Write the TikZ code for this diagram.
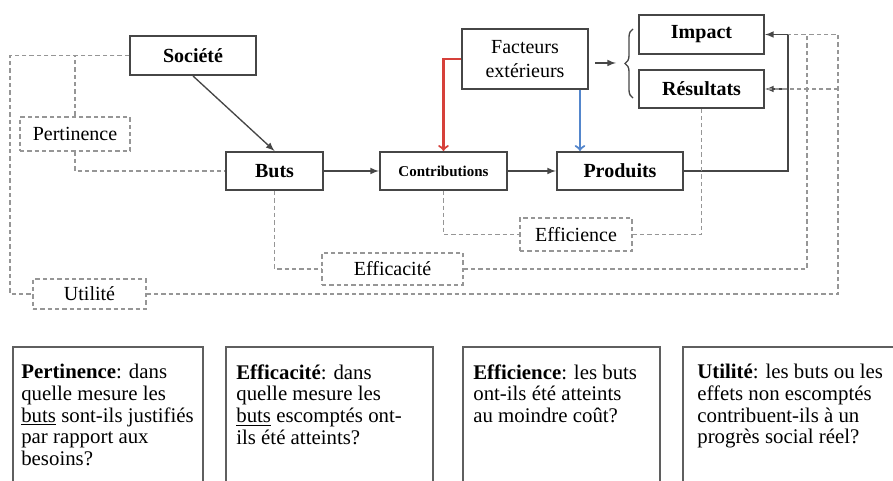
\documentclass[tikz,border=0pt]{standalone}
\usepackage{fontspec}
\setmainfont{Liberation Serif}
\usetikzlibrary{decorations.pathreplacing}

\definecolor{boxgray}{RGB}{70,70,70}
\definecolor{dashgray}{RGB}{150,150,150}
\definecolor{qgray}{RGB}{95,95,95}
\definecolor{redarr}{RGB}{214,64,58}
\definecolor{bluearr}{RGB}{84,134,204}

\tikzset{
  box/.style={draw=boxgray, line width=1.2pt, font=\fontsize{12}{14}\selectfont\bfseries, inner sep=1pt},
  dbox/.style={draw=dashgray, line width=0.8pt, dash pattern=on 2.6pt off 1.8pt, font=\fontsize{12}{14}\selectfont, inner sep=1pt},
  link/.style={draw=boxgray, line width=0.8pt},
  dlink/.style={draw=dashgray, line width=0.8pt, dash pattern=on 2.6pt off 1.8pt},
  qbox/.style={draw=qgray, line width=1.4pt},
  qtext/.style={anchor=north west, align=left, inner sep=0pt, font=\fontsize{12.5}{13}\selectfont}
}

\begin{document}
\begin{tikzpicture}[x=0.6pt,y=-0.6pt,>=latex]
\useasboundingbox (0,0) rectangle (893,481);
\clip (0,0) rectangle (893,481);

% main chain
\node[box, minimum width=75.6pt, minimum height=23.4pt] (soc) at (193,55.5) {Société};
\node[box, minimum width=58.2pt, minimum height=22.8pt] (buts) at (274.5,171) {Buts};
\node[box, minimum width=76.2pt, minimum height=22.8pt, font=\fontsize{9}{10}\selectfont\bfseries] (contr) at (443.5,171) {Contributions};
\node[box, minimum width=75.6pt, minimum height=22.8pt] (prod) at (620,171) {Produits};
\node[box, minimum width=75.6pt, minimum height=36pt, font=\fontsize{12}{14}\selectfont, align=center] (fact) at (525,59) {Facteurs\\extérieurs};
\node[box, minimum width=75pt, minimum height=23.4pt] (imp) at (701.5,34.5) {Impact};
\node[box, minimum width=75pt, minimum height=22.8pt] (res) at (701.5,89) {Résultats};

% criteria
\node[dbox, minimum width=66pt, minimum height=20.4pt] (pert) at (75,134) {Pertinence};
\node[dbox, minimum width=84.6pt, minimum height=19.2pt] (effa) at (392.5,269) {Efficacité};
\node[dbox, minimum width=67.2pt, minimum height=19.8pt] (effi) at (576,234.5) {Efficience};
\node[dbox, minimum width=67.8pt, minimum height=18pt] (util) at (89.5,294) {Utilité};

\coordinate (ul) at (10,294);
\coordinate (ka) at (807,34.5);
\coordinate (kb) at (838,34.5);
\coordinate (kc) at (788,34.5);
\coordinate (bl) at ([xshift=-5.4pt]fact.south east);
\coordinate (bs) at (595,63);
\coordinate (bt) at (616,63);

% solid links
\draw[link,->] (soc.south) -- (buts.north);
\draw[link,->] (buts.east) -- (contr.west);
\draw[link,->] (contr.east) -- (prod.west);
\draw[link] (prod.east) -| (kc);
\draw[link,->] (kc) -- (imp.east);
\draw[link,->] (kc |- res.east) -- (res.east);
\draw[link,->] (bs) -- (bt);
\draw[link, decorate, decoration={brace, amplitude=4.8pt}] (633,98) -- (633,29);

% external factors
\draw[redarr, line width=1.3pt, -to] (fact.west) -| (contr.north);
\draw[bluearr, line width=1.3pt, -to] (bl) -- (bl |- prod.north);

% dashed links
\draw[dlink] (soc.west) -| (pert.north);
\draw[dlink] (soc.west) -| (ul) -- (util.west);
\draw[dlink] (pert.south) |- (buts.west);
\draw[dlink] (buts.south) |- (effa.west);
\draw[dlink] (contr.south) |- (effi.west);
\draw[dlink] (effi.east) -| (res.south);
\draw[dlink] (effa.east) -| (ka) -- (kc);
\draw[dlink] (util.east) -| (kb) -- (ka);
\draw[dlink] (kb |- res.east) -- (res.east);

% questions
\draw[qbox] (13,347) rectangle (203,500);
\draw[qbox] (226,347) rectangle (433,500);
\draw[qbox] (463,347) rectangle (660,500);
\draw[qbox] (683,347) rectangle (920,500);
\node[qtext] (qpert) at (21,364) {\textbf{Pertinence}: dans\\quelle mesure les\\\underline{buts} sont-ils justifiés\\par rapport aux\\besoins?};
\node[qtext] (qeffa) at (236,364) {\textbf{Efficacité}: dans\\quelle mesure les\\\underline{buts} escomptés ont-\\ils été atteints?};
\node[qtext] (qeffi) at (473,364) {\textbf{Efficience}: les buts\\ont-ils été atteints\\au moindre coût?};
\node[qtext] (qutil) at (697,364) {\textbf{Utilité}: les buts ou les\\effets non escomptés\\contribuent-ils à un\\progrès social réel?};
\end{tikzpicture}
\end{document}
